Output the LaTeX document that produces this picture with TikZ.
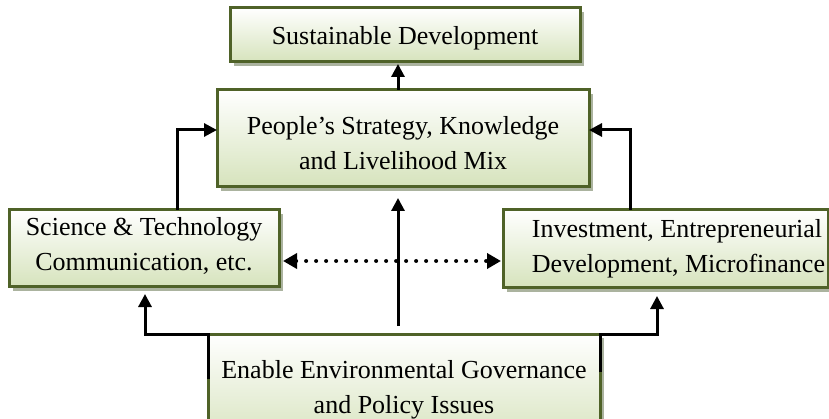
\documentclass[tikz,border=0pt]{standalone}
\usepackage{fontspec}
\setmainfont{Liberation Serif}
\usetikzlibrary{arrows.meta,shadows}
\definecolor{boxborder}{RGB}{79,98,40}
\definecolor{boxfill}{RGB}{214,227,188}
\definecolor{boxshadow}{RGB}{150,160,135}
\tikzset{
  gbox/.style={draw=boxborder, line width=3pt, top color=white, bottom color=boxfill,
    inner sep=0pt, outer sep=0pt, font=\fontsize{26}{35}\selectfont,
    drop shadow={shadow xshift=4pt, shadow yshift=-4pt, fill=boxshadow, opacity=0.8}},
  arr/.style={line width=3pt, -{Triangle[length=13pt,width=13pt]}},
  dotarr/.style={line width=4pt, line cap=round, dash pattern=on 0pt off 10pt,
    {Triangle[length=14pt,width=15pt,line cap=butt]}-{Triangle[length=14pt,width=15pt,line cap=butt]}},
}
\begin{document}
\begin{tikzpicture}[x=1pt,y=-1pt]
\useasboundingbox (0,0) rectangle (829,419);
\clip (0,0) rectangle (829,419);
\node[gbox, minimum width=350pt, minimum height=54pt] (sus) at (405,35) {\rule{0pt}{24pt}Sustainable Development};
\node[gbox, minimum width=372pt, minimum height=97pt, align=center] (peo) at (403,138.5)
  {\rule{0pt}{28pt}People’s Strategy, Knowledge\\and Livelihood Mix\hspace{28pt}};
\node[gbox, minimum width=270pt, minimum height=77pt, align=center] (sci) at (144,248.5)
  {Science \& Technology\\ Communication, etc.\rule[-9pt]{0pt}{0pt}};
\node[gbox, minimum width=325pt, minimum height=78pt, align=left] (inv) at (665.5,249)
  {\hspace*{26pt}Investment, Entrepreneurial\\\hspace*{26pt}Development, Microfinance};
\node[gbox, minimum width=392pt, minimum height=112pt, align=center] (enb) at (404,390)
  {Enable Environmental Governance\\and Policy Issues\hspace{29pt}};

\draw[arr] ([xshift=-5pt]peo.north) -- ([xshift=-5pt,yshift=-2pt]peo.north |- sus.south);
\draw[arr] ([xshift=33pt]sci.north) |- ([yshift=8.5pt]peo.west);
\draw[arr] ([xshift=-35.5pt]inv.north) |- ([yshift=8.5pt]peo.east);
\draw[dotarr] ([xshift=4pt,yshift=-12.5pt]sci.east) -- ([xshift=-2pt,yshift=-12pt]inv.west);
\draw[arr] ([xshift=-6pt,yshift=8pt]enb.north) -- ([xshift=-5pt,yshift=-11pt]peo.south);
\draw[arr] ([yshift=11pt]enb.west) -- (enb.north west) -| ([xshift=1pt,yshift=-7pt]sci.south);
\draw[arr] ([yshift=18pt]enb.east) -- (enb.north east) -| ([xshift=-8.5pt,yshift=-8pt]inv.south);
\end{tikzpicture}
\end{document}
